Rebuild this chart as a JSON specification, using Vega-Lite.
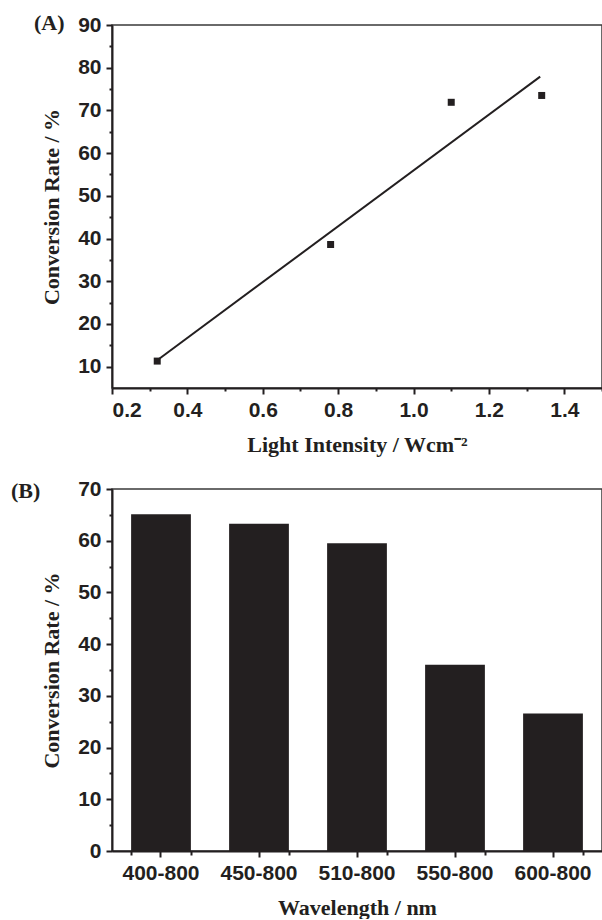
{
  "$schema": "https://vega.github.io/schema/vega-lite/v6.json",
  "autosize": {"type": "pad"},
  "padding": {"left": 10, "top": 11, "right": 0, "bottom": 0},
  "background": "white",
  "config": {
    "view": {"stroke": "#3a3a3a", "strokeWidth": 1.5},
    "axis": {
      "labelFont": "Liberation Sans", "labelFontWeight": "bold", "labelFontSize": 21, "labelColor": "#231f20",
      "titleFont": "Liberation Serif", "titleFontWeight": "bold", "titleFontSize": 22, "titleColor": "#231f20",
      "domainColor": "#231f20", "domainWidth": 2, "tickColor": "#231f20", "tickWidth": 2, "tickSize": 6,
      "labelPadding": 5, "grid": false
    }
  },
  "datasets": {
    "pts": [
      {"intensity": 0.32, "rate": 11.3},
      {"intensity": 0.78, "rate": 38.6},
      {"intensity": 1.10, "rate": 71.9},
      {"intensity": 1.34, "rate": 73.5}
    ],
    "fit": [
      {"intensity": 0.32, "rate": 11.5},
      {"intensity": 1.336, "rate": 77.9}
    ],
    "bars": [
      {"range": "400-800", "rate": 65.1},
      {"range": "450-800", "rate": 63.3},
      {"range": "510-800", "rate": 59.5},
      {"range": "550-800", "rate": 36.0},
      {"range": "600-800", "rate": 26.6}
    ]
  },
  "vconcat": [
    {
      "width": 490,
      "height": 363,
      "title": {"text": "(A)", "anchor": "start", "frame": "group", "orient": "top", "font": "Liberation Serif", "fontSize": 22, "fontWeight": "bold", "color": "#231f20", "dx": -78, "dy": 31, "offset": -7, "baseline": "alphabetic"},
      "layer": [
        {
          "data": {"name": "pts"},
          "mark": {"type": "point", "shape": "square", "filled": true, "size": 49, "color": "#231f20", "opacity": 1},
          "encoding": {
            "x": {"field": "intensity", "type": "quantitative", "scale": {"domain": [0.2, 1.5], "nice": false, "zero": false},
              "axis": {"orient": "bottom", "values": [0.2, 0.4, 0.6, 0.8, 1.0, 1.2, 1.4], "format": ".1f", "title": "Light Intensity / Wcm⁻²", "titlePadding": 14}},
            "y": {"field": "rate", "type": "quantitative", "scale": {"domain": [5, 90], "nice": false, "zero": false},
              "axis": {"orient": "left", "values": [10, 20, 30, 40, 50, 60, 70, 80, 90], "title": "Conversion Rate / %", "titlePadding": 14}}
          }
        },
        {
          "data": {"name": "fit"},
          "mark": {"type": "line", "color": "#231f20", "strokeWidth": 2},
          "encoding": {
            "x": {"field": "intensity", "type": "quantitative",
              "axis": {"orient": "bottom", "values": [0.3, 0.5, 0.7, 0.9, 1.1, 1.3, 1.5], "labels": false, "domain": false, "title": null, "tickSize": 3}},
            "y": {"field": "rate", "type": "quantitative",
              "axis": {"orient": "left", "values": [15, 25, 35, 45, 55, 65, 75, 85], "labels": false, "domain": false, "title": null, "tickSize": 3}}
          }
        }
      ],
      "resolve": {"axis": {"x": "independent", "y": "independent"}}
    },
    {
      "width": 490,
      "height": 362,
      "title": {"text": "(B)", "anchor": "start", "frame": "group", "orient": "top", "font": "Liberation Serif", "fontSize": 22, "fontWeight": "bold", "color": "#231f20", "dx": -101, "dy": 32, "offset": -10, "baseline": "alphabetic"},
      "data": {"name": "bars"},
      "layer": [
        {
          "mark": {"type": "bar", "color": "#231f20"},
          "encoding": {
            "x": {"field": "range", "type": "nominal", "sort": null, "scale": {"paddingInner": 0.39, "paddingOuter": 0.195},
              "axis": {"orient": "bottom", "labelAngle": 0, "title": "Wavelength / nm", "titlePadding": 14}},
            "y": {"field": "rate", "type": "quantitative", "scale": {"domain": [0, 70], "nice": false},
              "axis": {"orient": "left", "values": [0, 10, 20, 30, 40, 50, 60, 70], "title": "Conversion Rate / %", "titlePadding": 14}}
          }
        },
        {
          "mark": {"type": "bar", "opacity": 0},
          "encoding": {
            "x": {"field": "range", "type": "nominal", "sort": null,
              "axis": {"orient": "bottom", "labels": false, "domain": false, "title": null, "tickSize": 4, "tickBand": "extent"}},
            "y": {"field": "rate", "type": "quantitative",
              "axis": {"orient": "left", "values": [5, 15, 25, 35, 45, 55, 65], "labels": false, "domain": false, "title": null, "tickSize": 3}}
          }
        }
      ],
      "resolve": {"axis": {"x": "independent", "y": "independent"}}
    }
  ],
  "spacing": 101,
  "bounds": "flush"
}
